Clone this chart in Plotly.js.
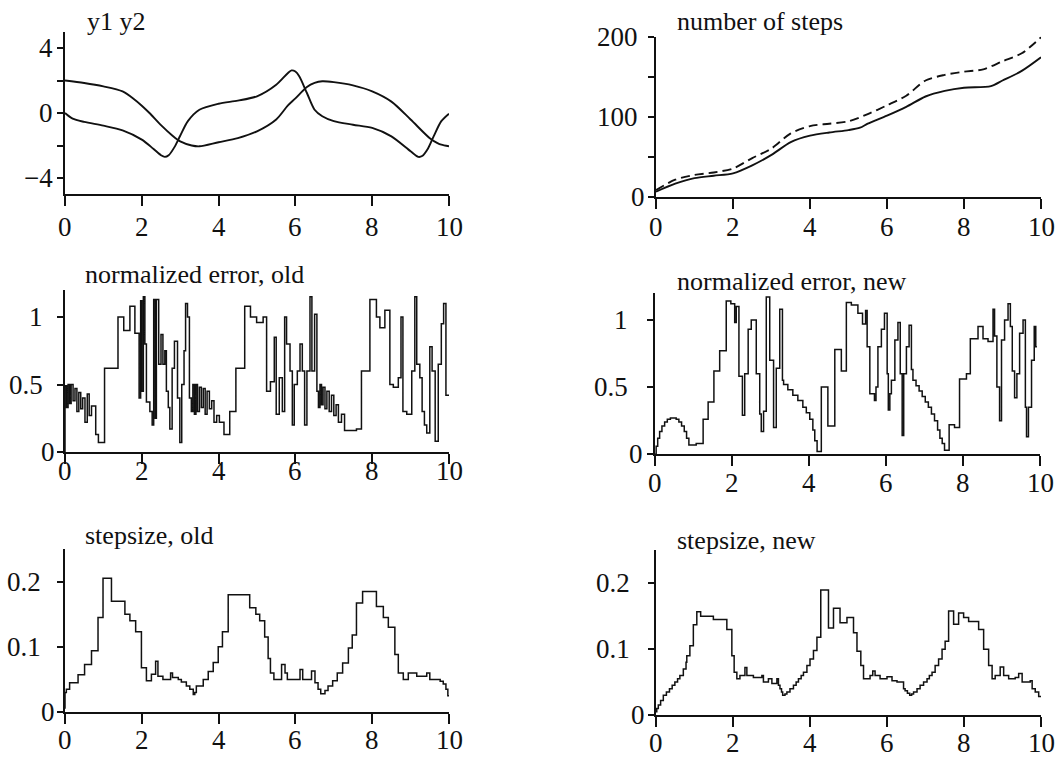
<!DOCTYPE html>
<html>
<head>
<meta charset="utf-8">
<script src="https://cdn.plot.ly/plotly-3.0.1.min.js"></script>
<style>html,body{margin:0;padding:0;background:#fff;}#chart{width:1055px;height:764px;}</style>
</head>
<body>
<div id="chart"></div>
<script>
// ---- panel 1: y1 y2 ----
const y1X = [0,0.5,1,1.5,1.8,2,2.2,2.5,2.8,3,3.3,3.5,4,4.5,5,5.5,5.8,6,6.3,6.5,6.7,7,7.5,8,8.5,9,9.5,9.7,9.8,10];
const y1V = [2.0,1.85,1.64,1.33,0.85,0.45,0.0,-0.75,-1.4,-1.75,-2.0,-2.05,-1.8,-1.55,-1.13,-0.4,0.45,0.9,1.6,1.85,1.95,1.9,1.7,1.33,0.7,-0.4,-1.55,-1.85,-1.95,-2.05];
const y2X = [0,0.2,0.5,1,1.5,2,2.3,2.5,2.6,2.7,2.85,3,3.2,3.5,4,4.5,5,5.5,5.8,5.9,6.0,6.1,6.3,6.5,6.7,7,7.5,8,8.5,9,9.2,9.3,9.45,9.6,9.8,10];
const y2V = [0,-0.35,-0.55,-0.78,-1.07,-1.64,-2.2,-2.6,-2.7,-2.6,-2.1,-1.4,-0.5,0.2,0.57,0.76,1.03,1.74,2.45,2.62,2.55,2.26,1.23,0.2,-0.2,-0.5,-0.72,-0.92,-1.44,-2.36,-2.7,-2.65,-2.2,-1.44,-0.5,-0.04];

// ---- panel 2: number of steps ----
const stepsNewX = [0,0.5,1,1.5,2,2.5,3,3.5,4,4.5,5,5.3,5.5,6,6.5,7,7.5,8,8.7,9,9.5,10];
const stepsNewV = [6,16,23,26,29,39,52,68,76,80,83,86,91,101,112,125,132,136,138,145,157,174];
const stepsOldX = [0,0.5,1,1.5,2,2.5,3,3.5,4,4.5,5,5.5,6,6.5,7,7.5,8,8.5,9,9.5,10];
const stepsOldV = [8,21,27,30,35,48,60,79,88,91,94,103,114,126,145,152,156,159,169,179,199];

// ---- panel 3: normalized error, old (step starts) ----
const errOldX = [0,0,0.04,0.08,0.12,0.16,0.21,0.26,0.31,0.36,0.41,0.46,0.52,0.58,0.63,0.69,0.80,0.87,1.03,1.38,1.53,1.69,1.82,1.93,1.97,2.00,2.04,2.08,2.12,2.21,2.27,2.31,2.35,2.38,2.44,2.50,2.55,2.60,2.64,2.69,2.73,2.79,2.85,2.93,2.99,3.04,3.10,3.14,3.19,3.24,3.29,3.33,3.37,3.41,3.45,3.50,3.55,3.60,3.65,3.70,3.76,3.82,3.88,3.95,4.02,4.14,4.29,4.45,4.68,4.83,4.99,5.16,5.25,5.35,5.45,5.50,5.58,5.66,5.72,5.77,5.86,5.92,5.97,6.05,6.12,6.18,6.24,6.30,6.38,6.43,6.50,6.56,6.60,6.64,6.68,6.72,6.77,6.82,6.88,6.94,7.00,7.06,7.12,7.20,7.28,7.59,7.72,7.94,8.11,8.20,8.33,8.46,8.55,8.68,8.75,8.80,8.90,9.03,9.11,9.16,9.24,9.30,9.36,9.42,9.50,9.56,9.64,9.72,9.80,9.86,9.92,10];
const errOldV = [0,0.49,0.33,0.50,0.36,0.50,0.38,0.47,0.30,0.44,0.32,0.40,0.22,0.43,0.27,0.34,0.13,0.07,0.62,1.00,0.90,1.08,0.88,0.40,1.12,0.45,1.15,0.80,0.37,0.30,0.20,1.13,0.25,1.13,0.65,0.87,0.65,0.75,0.45,0.33,0.17,0.62,0.82,0.40,0.07,0.50,0.75,1.10,1.00,0.40,0.30,0.50,0.28,0.50,0.30,0.48,0.33,0.47,0.28,0.45,0.32,0.38,0.22,0.27,0.22,0.13,0.30,0.62,1.08,1.00,0.96,1.00,0.45,0.52,0.85,0.28,0.55,0.30,1.00,0.80,0.60,0.20,0.50,0.60,0.80,0.60,0.20,0.60,1.15,0.60,1.02,0.45,0.33,0.50,0.35,0.48,0.32,0.45,0.30,0.42,0.27,0.35,0.22,0.28,0.16,0.17,0.60,1.13,1.00,0.92,1.05,0.50,0.48,0.55,1.00,0.30,0.28,0.60,1.15,0.65,0.55,0.30,0.20,0.14,0.78,0.60,0.08,0.65,0.95,1.10,0.42,0.42];

// ---- panel 4: normalized error, new ----
const errNewX = [0,0.03,0.07,0.12,0.18,0.25,0.32,0.40,0.47,0.55,0.62,0.69,0.76,0.82,0.88,0.94,1.07,1.25,1.38,1.53,1.68,1.85,1.97,2.07,2.11,2.18,2.27,2.33,2.42,2.50,2.63,2.72,2.76,2.82,2.89,2.98,3.08,3.15,3.24,3.31,3.34,3.45,3.58,3.71,3.84,3.93,4.02,4.10,4.15,4.21,4.32,4.49,4.67,4.84,4.97,5.10,5.27,5.39,5.47,5.51,5.58,5.70,5.74,5.79,5.88,5.96,6.03,6.06,6.10,6.14,6.23,6.31,6.37,6.42,6.46,6.53,6.60,6.66,6.70,6.78,6.86,6.94,7.02,7.10,7.18,7.26,7.34,7.40,7.46,7.52,7.64,7.78,7.91,8.09,8.19,8.39,8.52,8.65,8.78,8.82,8.88,8.95,9.00,9.08,9.17,9.23,9.28,9.34,9.40,9.47,9.56,9.62,9.65,9.70,9.78,9.85,9.89,9.92,10];
const errNewV = [0.0,0.06,0.12,0.17,0.21,0.24,0.26,0.27,0.27,0.26,0.24,0.21,0.17,0.12,0.07,0.07,0.08,0.26,0.39,0.62,0.77,1.14,1.12,0.98,1.10,0.58,0.29,0.60,0.93,1.00,0.60,0.30,0.17,0.32,1.17,0.70,0.20,0.64,1.08,0.55,0.52,0.48,0.44,0.40,0.35,0.31,0.26,0.18,0.10,0.02,0.50,0.21,0.78,0.62,1.13,1.11,1.05,0.97,1.07,0.80,0.45,0.40,0.50,0.80,0.93,1.05,0.60,0.33,0.45,0.55,0.85,0.98,0.60,0.14,0.60,0.80,0.96,0.63,0.55,0.51,0.47,0.43,0.39,0.35,0.30,0.25,0.18,0.12,0.08,0.03,0.22,0.20,0.56,0.60,0.86,0.95,0.86,0.84,1.08,0.88,0.50,0.25,0.85,1.00,1.12,0.95,0.62,0.42,0.60,0.90,1.00,0.35,0.13,0.35,0.70,0.95,0.80,0.80];

// ---- panel 5: stepsize, old ----
const hOldX = [0,0,0.035,0.12,0.19,0.34,0.51,0.69,0.86,0.99,1.21,1.56,1.69,1.84,1.99,2.12,2.25,2.36,2.42,2.55,2.75,2.80,2.95,3.03,3.16,3.25,3.34,3.38,3.42,3.51,3.60,3.73,3.86,3.99,4.10,4.25,4.81,4.97,5.07,5.20,5.29,5.35,5.44,5.64,5.73,5.79,6.12,6.19,6.42,6.51,6.59,6.66,6.77,6.85,6.97,7.09,7.23,7.38,7.48,7.59,7.75,8.11,8.29,8.42,8.59,8.68,8.81,8.94,9.16,9.42,9.50,9.77,9.85,9.92,9.97,10];
const hOldV = [0.005,0.030,0.035,0.045,0.045,0.057,0.073,0.094,0.145,0.205,0.170,0.150,0.140,0.123,0.068,0.048,0.058,0.078,0.055,0.050,0.060,0.053,0.050,0.046,0.040,0.035,0.027,0.030,0.040,0.040,0.050,0.062,0.076,0.100,0.123,0.180,0.160,0.150,0.140,0.115,0.082,0.060,0.050,0.073,0.060,0.050,0.065,0.050,0.063,0.045,0.035,0.028,0.033,0.040,0.048,0.060,0.075,0.098,0.118,0.167,0.185,0.162,0.145,0.130,0.088,0.060,0.050,0.060,0.055,0.060,0.050,0.047,0.043,0.035,0.025,0.025];

// ---- panel 6: stepsize, new ----
const hNewX = [0,0.02,0.06,0.12,0.19,0.27,0.35,0.42,0.49,0.56,0.62,0.71,0.78,0.80,0.88,0.97,1.06,1.16,1.32,1.49,1.84,1.97,2.03,2.10,2.18,2.31,2.36,2.53,2.75,2.79,2.92,3.01,3.14,3.18,3.22,3.26,3.29,3.35,3.40,3.48,3.57,3.64,3.70,3.77,3.83,3.92,4.00,4.09,4.18,4.28,4.48,4.61,4.78,4.96,5.13,5.22,5.32,5.39,5.56,5.63,5.69,5.82,6.00,6.13,6.26,6.43,6.47,6.53,6.59,6.64,6.69,6.78,6.86,6.95,7.04,7.10,7.17,7.25,7.34,7.43,7.51,7.60,7.73,7.86,7.99,8.12,8.38,8.51,8.64,8.73,8.81,8.94,9.03,9.16,9.33,9.42,9.51,9.72,9.77,9.85,9.94,10];
const hNewV = [0.005,0.010,0.015,0.022,0.030,0.035,0.040,0.045,0.050,0.055,0.060,0.070,0.080,0.090,0.105,0.137,0.157,0.150,0.150,0.145,0.130,0.090,0.065,0.055,0.060,0.072,0.060,0.057,0.060,0.050,0.055,0.048,0.055,0.045,0.040,0.035,0.030,0.032,0.035,0.040,0.045,0.050,0.055,0.060,0.065,0.075,0.085,0.098,0.118,0.190,0.132,0.162,0.140,0.148,0.125,0.097,0.075,0.055,0.060,0.067,0.060,0.055,0.058,0.052,0.050,0.040,0.037,0.033,0.030,0.032,0.035,0.040,0.045,0.050,0.055,0.060,0.065,0.075,0.085,0.100,0.112,0.158,0.138,0.155,0.148,0.142,0.130,0.100,0.075,0.055,0.060,0.073,0.060,0.055,0.057,0.063,0.050,0.052,0.040,0.035,0.028,0.028];

// ---- tick values / labels ----
const xTicks = [0,2,4,6,8,10];
const xTickText = ['0','2','4','6','8','10'];
const y1Ticks = [-4,-2,0,2,4];      const y1Text = ['−4','','0','','4'];
const y2Ticks = [0,50,100,150,200]; const y2Text = ['0','','100','','200'];
const errTicks = [0,0.5,1];         const errText = ['0','0.5','1'];
const hTicks = [0,0.1,0.2];         const hText = ['0','0.1','0.2'];
const titles = ['y1 y2','number of steps','normalized error, old','normalized error, new','stepsize, old','stepsize, new'];

const FONT = 'Liberation Serif, Times New Roman, serif';
const INK = '#111';
const W = 1055, H = 764;

function ln(x, y, ax, opts) {
  opts = opts || {};
  const line = {color: INK, width: opts.step ? 1.5 : 1.9};
  if (opts.step) line.shape = 'hv';
  else { line.shape = 'spline'; line.smoothing = 0.8; }
  if (opts.dash) line.dash = opts.dash;
  return {x: x, y: y, xaxis: 'x' + ax, yaxis: 'y' + ax, type: 'scatter', mode: 'lines',
    line: line, hoverinfo: 'skip', showlegend: false};
}
const data = [
  ln(y1X, y1V, ''), ln(y2X, y2V, ''),
  ln(stepsNewX, stepsNewV, '2'),
  ln(stepsOldX, stepsOldV, '2', {dash: '9px,5px'}),
  ln(errOldX, errOldV, '3', {step: true}),
  ln(errNewX, errNewV, '4', {step: true}),
  ln(hOldX, hOldV, '5', {step: true}),
  ln(hNewX, hNewV, '6', {step: true})
];

// panel geometry in pixels: x-axis left/right, y bottom/top (pixel rows), label positions
const panels = [
  {xl: 65,  xr: 449,  yb: 194.25, yt: 31.75, range: [-5, 5],    tv: y1Ticks,  tt: y1Text,  xlab: 227, yEdge: 55,  zEdge: 55,  ttl: [85, 22]},
  {xl: 656, xr: 1041, yb: 196.5,  yt: 36.5,  range: [0, 200],   tv: y2Ticks,  tt: y2Text,  xlab: 227, yEdge: 640, zEdge: 647, ttl: [675, 22]},
  {xl: 65,  xr: 449,  yb: 452,    yt: 290,   range: [0, 1.2],   tv: errTicks, tt: errText, xlab: 471, yEdge: 45,  zEdge: 57,  ttl: [83, 274]},
  {xl: 655, xr: 1040, yb: 454.3,  yt: 293,   range: [0, 1.2],   tv: errTicks, tt: errText, xlab: 483, yEdge: 630, zEdge: 645, ttl: [675, 281]},
  {xl: 65,  xr: 449,  yb: 712,    yt: 549,   range: [0, 0.25],  tv: hTicks,   tt: hText,   xlab: 740, yEdge: 43,  zEdge: 57,  ttl: [83, 535]},
  {xl: 656, xr: 1041, yb: 715,    yt: 550.4, range: [0, 0.25],  tv: hTicks,   tt: hText,   xlab: 743, yEdge: 632, zEdge: 647, ttl: [675, 540]}
];

const layout = {
  width: W, height: H, margin: {l: 0, r: 0, t: 0, b: 0}, paper_bgcolor: '#fff', plot_bgcolor: '#fff',
  showlegend: false, annotations: []
};
const tf = {family: FONT, size: 27, color: INK};
panels.forEach((p, i) => {
  const s = i === 0 ? '' : String(i + 1);
  layout['xaxis' + s] = {domain: [p.xl / W, p.xr / W], anchor: 'y' + s, range: [0, 10], tickvals: xTicks,
    ticks: 'outside', ticklen: 10, tickwidth: 2, tickcolor: INK, showticklabels: false,
    showline: true, linewidth: 2, linecolor: INK, showgrid: false, zeroline: false, fixedrange: true};
  layout['yaxis' + s] = {domain: [1 - p.yb / H, 1 - p.yt / H], anchor: 'x' + s, range: p.range, tickvals: p.tv,
    ticks: 'outside', ticklen: 6, tickwidth: 2, tickcolor: INK, showticklabels: false,
    showline: true, linewidth: 2, linecolor: INK, showgrid: false, zeroline: false, fixedrange: true};
  xTicks.forEach((v, k) => layout.annotations.push({text: xTickText[k], xref: 'x' + s, yref: 'paper',
    x: v, y: 1 - p.xlab / H, xanchor: 'center', yanchor: 'middle', showarrow: false, font: tf}));
  p.tv.forEach((v, k) => {
    if (!p.tt[k]) return;
    const edge = p.tt[k] === '0' ? p.zEdge : p.yEdge;
    layout.annotations.push({text: p.tt[k], xref: 'paper', yref: 'y' + s, x: edge / W, y: v,
      xanchor: 'right', yanchor: 'middle', showarrow: false, font: tf});
  });
  layout.annotations.push({text: titles[i], xref: 'paper', yref: 'paper', x: p.ttl[0] / W, y: 1 - p.ttl[1] / H,
    xanchor: 'left', yanchor: 'middle', showarrow: false, font: {family: FONT, size: 26, color: INK}});
});
Plotly.newPlot('chart', data, layout, {staticPlot: true, displayModeBar: false});
</script>
</body>
</html>
